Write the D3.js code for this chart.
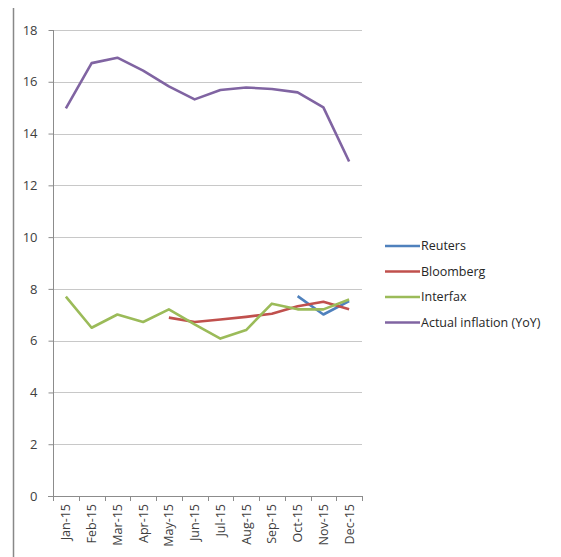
<!DOCTYPE html>
<html>
<head>
<meta charset="utf-8">
<script src="https://cdnjs.cloudflare.com/ajax/libs/d3/7.8.5/d3.min.js"></script>
<style>
  html, body { margin: 0; padding: 0; background: #fff; }
  svg { display: block; }
  text { font-family: "Open Sans", "Liberation Sans", sans-serif; fill: #404040; }
</style>
</head>
<body>
<svg id="chart" width="561" height="557"></svg>
<script>
// Monthly categories
const months = ["Jan-15","Feb-15","Mar-15","Apr-15","May-15","Jun-15","Jul-15","Aug-15","Sep-15","Oct-15","Nov-15","Dec-15"];

// Inflation forecasts and actual values (%), null where no value
const reuters   = [null, null, null, null, null, null, null, null, null, 7.72, 7.01, 7.53];
const bloomberg = [null, null, null, null, 6.89, 6.72, 6.82, 6.92, 7.04, 7.33, 7.50, 7.21];
const interfax  = [7.70, 6.50, 7.01, 6.72, 7.21, 6.63, 6.08, 6.41, 7.43, 7.21, 7.21, 7.59];
const actual    = [14.97, 16.72, 16.93, 16.43, 15.82, 15.32, 15.68, 15.78, 15.72, 15.59, 15.01, 12.92];

const yTicks = [0, 2, 4, 6, 8, 10, 12, 14, 16, 18];

const seriesNames  = ["Reuters", "Bloomberg", "Interfax", "Actual inflation (YoY)"];
const seriesColors = ["#4F81BD", "#C0504D", "#9BBB59", "#8064A2"];
const seriesValues = [reuters, bloomberg, interfax, actual];

const svg = d3.select("#chart");

const plot = { left: 53, right: 362, top: 30, bottom: 496 };

const x = d3.scaleBand().domain(months).range([plot.left, plot.right]);
const y = d3.scaleLinear().domain([0, 18]).range([plot.bottom, plot.top]);

// Frame line on the left edge
svg.append("line")
  .attr("x1", 13.5).attr("x2", 13.5)
  .attr("y1", 8).attr("y2", 557)
  .attr("stroke", "#888").attr("stroke-width", 1.5);

// Horizontal gridlines
svg.append("g")
  .selectAll("line")
  .data(yTicks.filter(d => d > 0))
  .join("line")
  .attr("x1", plot.left).attr("x2", plot.right)
  .attr("y1", d => Math.round(y(d)) + 0.5)
  .attr("y2", d => Math.round(y(d)) + 0.5)
  .attr("stroke", "#c8c8c8").attr("stroke-width", 1.2);

// Y axis
const yAxis = svg.append("g")
  .attr("transform", `translate(${plot.left + 0.5},0)`)
  .call(d3.axisLeft(y).tickValues(yTicks).tickSize(5).tickPadding(11).tickFormat(d3.format("d")));
yAxis.select(".domain").attr("stroke", "#8c8c8c").attr("d", `M0,${plot.top}V${plot.bottom}`);
yAxis.selectAll(".tick line").attr("stroke", "#8c8c8c");
yAxis.selectAll(".tick text")
  .style("font-size", "13px")
  .style("fill", "#404040");

// X axis: ticks at category boundaries
const xg = svg.append("g");
xg.append("line")
  .attr("x1", plot.left - 5).attr("x2", plot.right)
  .attr("y1", plot.bottom + 0.5).attr("y2", plot.bottom + 0.5)
  .attr("stroke", "#8c8c8c");
xg.selectAll("line.tk")
  .data(months.map(m => x(m)).concat([x(months[months.length - 1]) + x.bandwidth()]))
  .join("line")
  .attr("class", "tk")
  .attr("x1", d => Math.round(d) + 0.5).attr("x2", d => Math.round(d) + 0.5)
  .attr("y1", plot.bottom).attr("y2", plot.bottom + 5)
  .attr("stroke", "#8c8c8c");
xg.selectAll("text")
  .data(months)
  .join("text")
  .attr("transform", d => `translate(${x(d) + x.bandwidth() / 2 + 4.5},${plot.bottom + 8}) rotate(-90)`)
  .attr("text-anchor", "end")
  .style("font-size", "12.5px")
  .text(d => d);

// Series lines
const line = d3.line()
  .defined(d => d.v !== null)
  .x(d => x(d.m) + x.bandwidth() / 2)
  .y(d => y(d.v));

// draw order: Reuters, Bloomberg, Interfax, Actual
seriesValues.forEach((vals, i) => {
  svg.append("path")
    .datum(months.map((m, j) => ({ m, v: vals[j] })))
    .attr("fill", "none")
    .attr("stroke", seriesColors[i])
    .attr("stroke-width", 2.6)
    .attr("stroke-linejoin", "round")
    .attr("d", line);
});

// Legend
const legend = svg.append("g");
seriesNames.forEach((name, i) => {
  const ly = 246 + i * 25.5;
  legend.append("line")
    .attr("x1", 385).attr("x2", 420)
    .attr("y1", ly).attr("y2", ly)
    .attr("stroke", seriesColors[i]).attr("stroke-width", 2.6);
  legend.append("text")
    .attr("x", 421).attr("y", ly)
    .attr("dy", "0.35em")
    .style("font-size", "12.5px")
    .style("fill", "#262626")
    .text(name);
});
</script>
</body>
</html>
